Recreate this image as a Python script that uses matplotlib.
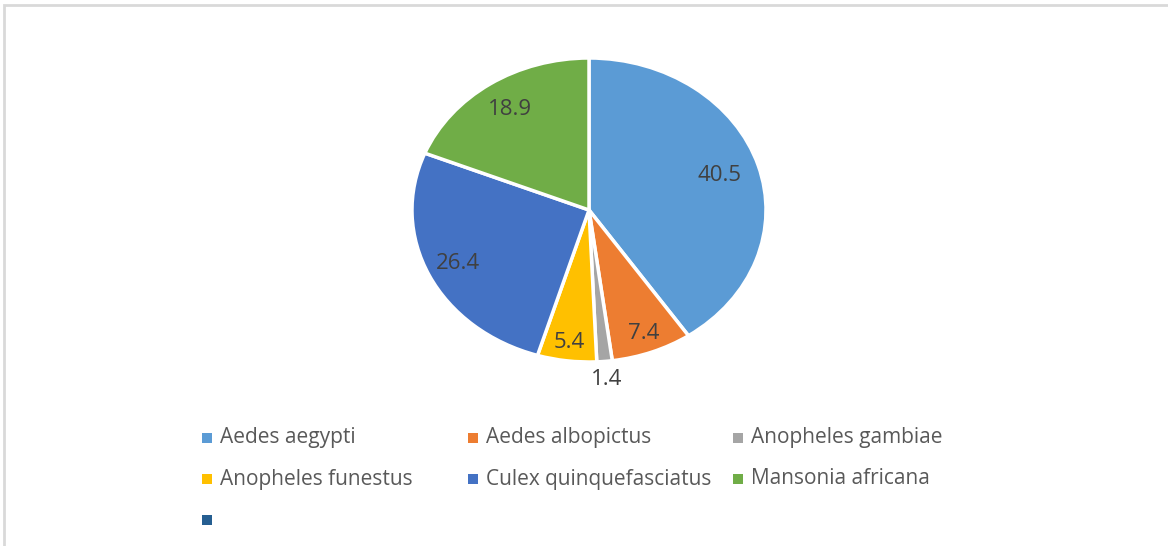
import matplotlib.pyplot as plt
from matplotlib.patches import Rectangle

SPECIES = [
    "Aedes aegypti",
    "Aedes albopictus",
    "Anopheles gambiae",
    "Anopheles funestus",
    "Culex quinquefasciatus",
    "Mansonia africana",
]
VALUES = [40.5, 7.4, 1.4, 5.4, 26.4, 18.9]
COLORS = ["#5B9BD5", "#ED7D31", "#A5A5A5", "#FFC000", "#4472C4", "#70AD47"]

# empty 7th legend entry as in the original
LEGEND_NAMES = SPECIES + [""]
LEGEND_COLORS = COLORS + ["#255E91"]

# label distance from centre (fraction of radius), Excel "best fit" look
LABEL_DIST = [0.77, 0.87, 1.12, 0.88, 0.82, 0.8]

W, H = 1168, 546
FONT = ["Open Sans", "DejaVu Sans"]

plt.rcParams["font.family"] = FONT

fig = plt.figure(figsize=(W / 100, H / 100), dpi=100)

# chart area border (left and top visible)
fig.add_artist(Rectangle((4 / W, -0.1), 1.2, (H - 5) / H + 0.1, transform=fig.transFigure,
                         fill=False, edgecolor="#D9D9D9", linewidth=2))

# pie area in pixels: centre (589, 210), rx 177, ry 152
cx, cy, rx, ry = 589, 210, 177, 152
ax = fig.add_axes([(cx - rx) / W, (H - cy - ry) / H, 2 * rx / W, 2 * ry / H])

wedges, texts = ax.pie(
    VALUES,
    colors=COLORS,
    startangle=90,
    counterclock=False,
    wedgeprops=dict(edgecolor="white", linewidth=2.5),
    labels=[f"{v:.1f}" for v in VALUES],
    labeldistance=1.0,
    textprops=dict(color="#404040", fontsize=16),
)
for t, d in zip(texts, LABEL_DIST):
    x, y = t.get_position()
    t.set_position((x * d, y * d))
    t.set_ha("center")
    t.set_va("center")

ax.set_aspect("auto")
ax.set_xlim(-1, 1)
ax.set_ylim(-1, 1)
ax.axis("off")

# legend, Excel style grid of three columns
for i, (name, color) in enumerate(zip(LEGEND_NAMES, LEGEND_COLORS)):
    col, row = i % 3, i // 3
    x = 202 + col * 265.5
    y = 438 + row * 41
    fig.add_artist(Rectangle((x / W, (H - y - 5) / H), 10 / W, 10 / H,
                             transform=fig.transFigure, color=color, linewidth=0))
    fig.text((x + 18) / W, (H - y) / H, name, ha="left", va="center",
             fontsize=15, color="#595959")

fig.savefig("out.png", dpi=100)
